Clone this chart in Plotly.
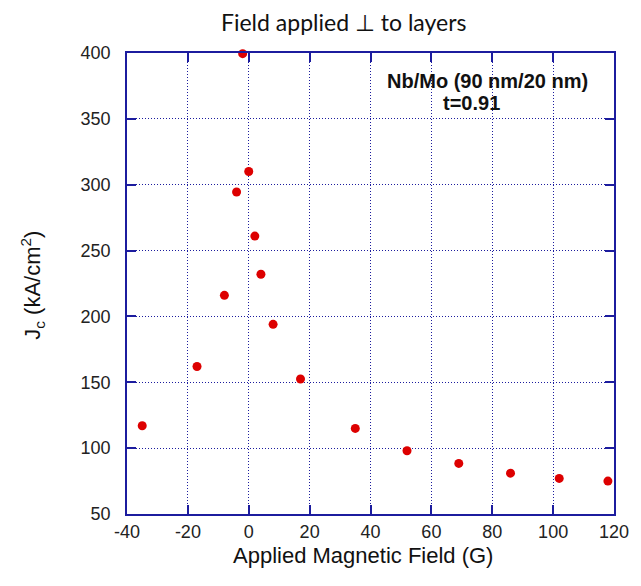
import plotly.graph_objects as go

field = [-35, -17, -8, -4, -2, 0, 2, 4, 8, 17, 35, 52, 69, 86, 102, 118]
jc = [117, 162, 216, 294.5, 399.5, 310, 261, 232, 194, 152.5, 115, 98, 88.4, 81, 77, 75]

x_ticks = [-40, -20, 0, 20, 40, 60, 80, 100, 120]
x_labels = ["-40", "-20", "0", "20", "40", "60", "80", "100", "120"]
y_ticks = [50, 100, 150, 200, 250, 300, 350, 400]
y_labels = ["50", "100", "150", "200", "250", "300", "350", "400"]

axis_color = "#1c1c9e"
fig = go.Figure()
fig.add_trace(go.Scatter(
    x=field, y=jc, mode="markers",
    marker=dict(color="#dd0000", size=9, line=dict(width=0)),
    cliponaxis=False, showlegend=False,
))

common = dict(
    showline=True, linecolor=axis_color, linewidth=1.5, mirror="allticks",
    ticks="inside", ticklen=9, tickcolor=axis_color, tickwidth=1.5,
    showgrid=True, gridcolor=axis_color, gridwidth=1, griddash="1px,2px",
    zeroline=False,
    tickfont=dict(family="Liberation Sans, Arial, sans-serif", size=18, color="#222"),
)

fig.update_xaxes(range=[-40, 120], tickvals=x_ticks, ticktext=x_labels,
                 ticklabelstandoff=1, **common)
fig.update_yaxes(range=[50, 400], tickvals=y_ticks, ticktext=y_labels,
                 ticklabelstandoff=11, **common)

fig.update_layout(
    width=641, height=586,
    margin=dict(l=127, r=18, t=53, b=72),
    paper_bgcolor="white", plot_bgcolor="white",
    annotations=[
        dict(text="Field applied ⊥ to layers", xref="paper", yref="paper",
             x=(348 - 127) / 496, y=1 + (53 - 22) / 461, showarrow=False,
             xanchor="center", yanchor="middle",
             font=dict(family="Lato, DejaVu Sans", size=23, color="#111")),
        dict(text="Applied Magnetic Field (G)", xref="paper", yref="paper",
             x=(367 - 127) / 496, y=-(555 - 514) / 461, showarrow=False,
             xanchor="center", yanchor="middle",
             font=dict(family="Liberation Sans, Arial, sans-serif", size=22, color="#111")),
        dict(text="J<sub>c</sub> (kA/cm<sup>2</sup>)", xref="paper", yref="paper",
             x=-(127 - 30) / 496, y=(514 - 285) / 461, showarrow=False, textangle=-90,
             xanchor="center", yanchor="middle",
             font=dict(family="Liberation Sans, Arial, sans-serif", size=22, color="#111")),
        dict(text="<b>Nb/Mo (90 nm/20 nm)</b>", xref="paper", yref="paper",
             x=(494 - 127) / 496, y=(514 - 81) / 461, showarrow=False,
             xanchor="center", yanchor="middle",
             font=dict(family="Liberation Sans, Arial, sans-serif", size=20, color="#111")),
        dict(text="<b>t=0.91</b>", xref="paper", yref="paper",
             x=(478 - 127) / 496, y=(514 - 103) / 461, showarrow=False,
             xanchor="center", yanchor="middle",
             font=dict(family="Liberation Sans, Arial, sans-serif", size=20, color="#111")),
    ],
)

fig.write_html("out.html")
